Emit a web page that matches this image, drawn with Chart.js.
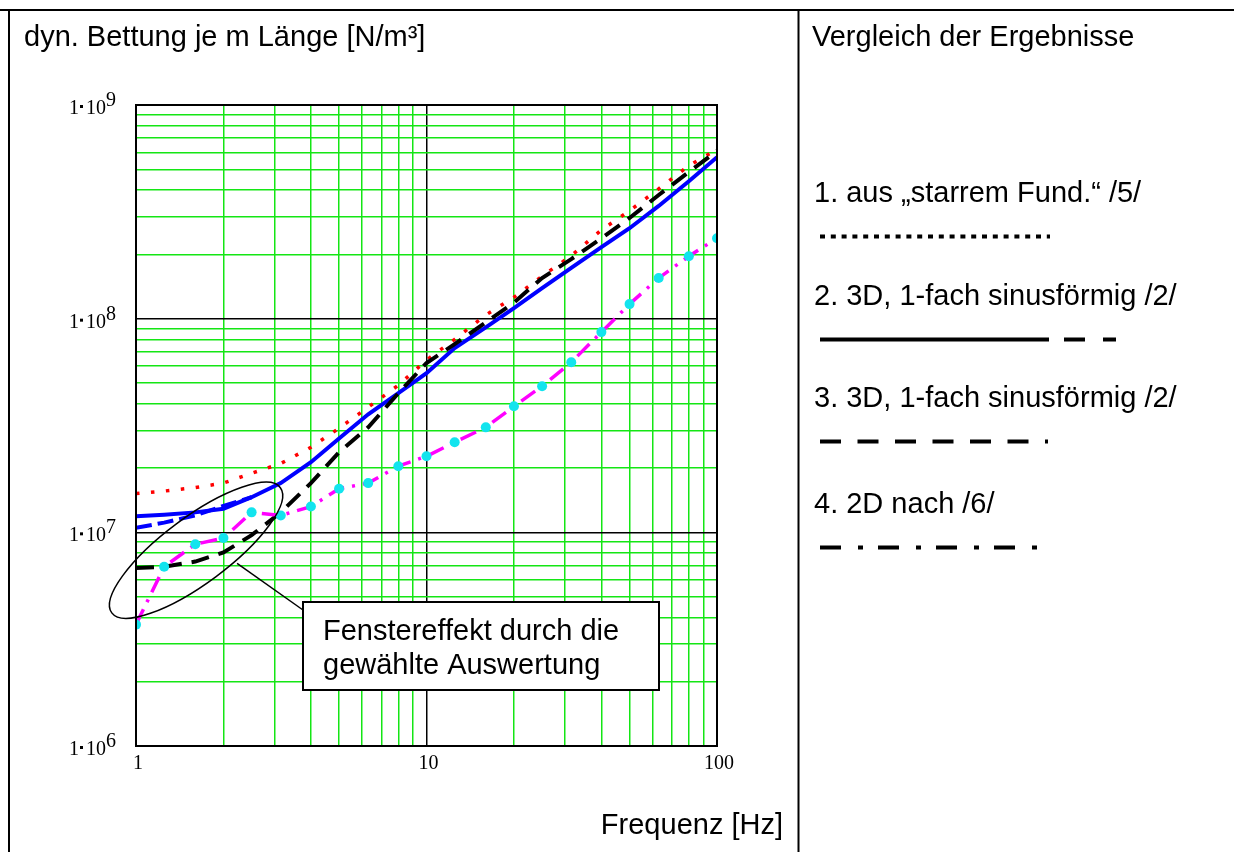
<!DOCTYPE html>
<html>
<head>
<meta charset="utf-8">
<title>dyn. Bettung je m Länge</title>
<script src="https://cdn.jsdelivr.net/npm/chart.js@4.4.1/dist/chart.umd.min.js"></script>
<style>
  html, body { margin: 0; padding: 0; background: #fff; }
  canvas { display: block; }
</style>
</head>
<body>
<canvas id="myChart" width="1234" height="852"></canvas>
<script>
//--------------------------------------------------DATA--------------------------------------------------
// third-octave frequencies [Hz]
const freqs = [1, 1.25, 1.6, 2, 2.5, 3.15, 4, 5, 6.3, 8, 10, 12.5, 16, 20, 25, 31.5, 40, 50, 63, 80, 100];

// 1. aus "starrem Fund." /5/  (red, dotted)
const starrValues = [1.52e7, 1.56e7, 1.62e7, 1.70e7, 1.89e7, 2.10e7, 2.50e7, 3.07e7, 3.85e7, 4.88e7, 6.4e7,
  8.0e7, 1.04e8, 1.26e8, 1.58e8, 1.97e8, 2.6e8, 3.2e8, 4.05e8, 5.2e8, 6.2e8];

// 2. 3D, 1-fach sinusförmig /2/  (blue, solid + dashed low end)
const sinusValues = [1.19e7, 1.21e7, 1.24e7, 1.29e7, 1.46e7, 1.70e7, 2.13e7, 2.75e7, 3.57e7, 4.48e7, 5.56e7,
  7.28e7, 9.1e7, 1.12e8, 1.39e8, 1.73e8, 2.16e8, 2.65e8, 3.37e8, 4.4e8, 5.7e8];
const sinusLowFreqs = [1, 1.25, 1.6, 2, 2.5];
const sinusLowValues = [1.05e7, 1.11e7, 1.2e7, 1.33e7, 1.46e7];

// 3. 3D, 1-fach sinusförmig /2/  (black, dashed)
const sinusBValues = [6.8e6, 6.9e6, 7.3e6, 8.05e6, 9.7e6, 1.24e7, 1.7e7, 2.37e7, 3.1e7, 4.48e7, 6.2e7,
  7.6e7, 9.6e7, 1.19e8, 1.55e8, 1.9e8, 2.38e8, 2.96e8, 3.79e8, 4.86e8, 6.1e8];

// 4. 2D nach /6/  (magenta dash-dot, cyan points)
const plane2dValues = [3.7e6, 6.9e6, 8.8e6, 9.4e6, 1.24e7, 1.2e7, 1.32e7, 1.6e7, 1.7e7, 2.04e7, 2.27e7,
  2.64e7, 3.1e7, 3.89e7, 4.83e7, 6.25e7, 8.65e7, 1.17e8, 1.55e8, 1.96e8, 2.38e8];

// axes
const xDecades = [1, 10, 100];
const xTickLabels = ['1', '10', '100'];
const yExponents = [6, 7, 8, 9];

// texts
const yTitle = 'dyn. Bettung je m Länge [N/m³]';
const xTitle = 'Frequenz [Hz]';
const panelTitle = 'Vergleich der Ergebnisse';
const legendLabels = [
  '1. aus \u201Estarrem Fund.\u201C /5/',
  '2. 3D, 1-fach sinusförmig /2/',
  '3. 3D, 1-fach sinusförmig /2/',
  '4. 2D nach /6/'
];
const noteLines = ['Fenstereffekt durch die', 'gewählte Auswertung'];

//--------------------------------------------------HELPERS--------------------------------------------------
const SANS = '"Liberation Sans", Arial, sans-serif';
const SERIF = '"Liberation Serif", "Times New Roman", serif';
const GREEN = '#14e614';

const toPoints = (xs, ys) => xs.map((x, i) => ({ x: x, y: ys[i] }));
const isDecade = v => Math.abs(Math.log10(v) - Math.round(Math.log10(v))) < 1e-9;

// 1..9 x 10^n ticks between the decades
function decadeTicks(decades) {
  const out = [];
  decades.forEach((d, i) => {
    if (i === decades.length - 1) { out.push({ value: d }); return; }
    for (let m = 1; m < 10; m++) out.push({ value: d * m });
  });
  return out;
}
const yDecades = yExponents.map(e => Math.pow(10, e));

function line(ctx, x0, y0, x1, y1) {
  ctx.beginPath();
  ctx.moveTo(x0, y0);
  ctx.lineTo(x1, y1);
  ctx.stroke();
}

//--------------------------------------------------PAGE PLUGIN--------------------------------------------------
// table frame, headings, tick labels, note, legend
const pagePlugin = {
  id: 'pagePlugin',
  afterDraw(chart) {
    const { ctx, chartArea: { left, right, top, bottom }, scales } = chart;
    const x = scales.x;
    const y = scales.y;
    ctx.save();
    ctx.strokeStyle = '#000';
    ctx.fillStyle = '#000';
    ctx.setLineDash([]);

    // plot frame
    ctx.lineWidth = 2;
    ctx.strokeRect(left, top, right - left, bottom - top);

    // table lines
    line(ctx, 0, 10, 1234, 10);
    line(ctx, 9, 10, 9, 852);
    line(ctx, 798.5, 10, 798.5, 852);

    // headings
    ctx.font = '29px ' + SANS;
    ctx.textBaseline = 'alphabetic';
    ctx.textAlign = 'left';
    ctx.fillText(yTitle, 24, 46);
    ctx.fillText(panelTitle, 812, 46);
    ctx.textAlign = 'right';
    ctx.fillText(xTitle, 783, 834);

    // x tick labels
    ctx.font = '20px ' + SERIF;
    ctx.textAlign = 'center';
    xDecades.forEach((d, i) => {
      ctx.fillText(xTickLabels[i], x.getPixelForValue(d) + 2, bottom + 23);
    });

    // y tick labels 1·10^n
    yExponents.forEach(e => {
      const py = y.getPixelForValue(Math.pow(10, e));
      ctx.font = '20px ' + SERIF;
      const sup = String(e);
      const sw = ctx.measureText(sup).width;
      ctx.textAlign = 'left';
      ctx.fillText(sup, 116 - sw, py + 1);
      ctx.textAlign = 'right';
      const tenRight = 116 - sw;
      ctx.fillText('10', tenRight, py + 9);
      const tenLeft = tenRight - ctx.measureText('10').width;
      ctx.fillRect(tenLeft - 6, py, 3, 3);
      ctx.fillText('1', tenLeft - 7, py + 9);
    });

    // ellipse round the low frequency region
    const cx = x.getPixelForValue(1.61);
    const cy = y.getPixelForValue(8.24e6);
    ctx.lineWidth = 1.5;
    ctx.beginPath();
    ctx.ellipse(cx, cy, 105, 33, -36.6 * Math.PI / 180, 0, Math.PI * 2);
    ctx.stroke();

    // note box with pointer
    line(ctx, cx + 41, cy + 13, 303, 610);
    ctx.fillStyle = '#fff';
    ctx.fillRect(303, 602, 356, 88);
    ctx.lineWidth = 2;
    ctx.strokeRect(303, 602, 356, 88);
    ctx.fillStyle = '#000';
    ctx.font = '29px ' + SANS;
    ctx.textAlign = 'left';
    ctx.fillText(noteLines[0], 323, 640);
    ctx.fillText(noteLines[1], 323, 674);

    // legend on the right
    const legendY = [202, 305, 407, 513];
    const sampleDash = [[5, 5.8], [229, 15, 21, 18, 14, 100], [21, 16.5], [21, 17, 5, 15]];
    const sampleEnd = [1050, 1116, 1048, 1037];
    legendLabels.forEach((lbl, i) => {
      ctx.font = '29px ' + SANS;
      ctx.fillText(lbl, 814, legendY[i]);
      ctx.lineWidth = 4;
      ctx.lineCap = 'butt';
      ctx.setLineDash(sampleDash[i]);
      line(ctx, 820, legendY[i] + 34.5, sampleEnd[i], legendY[i] + 34.5);
    });
    ctx.restore();
  }
};

//--------------------------------------------------CHART--------------------------------------------------
const myChart = new Chart('myChart', {
  type: 'line',
  data: {
    datasets: [
      {
        label: legendLabels[0],
        data: toPoints(freqs, starrValues),
        borderColor: '#ff0000',
        borderWidth: 3.5,
        borderDash: [3.5, 11.5],
        pointRadius: 0,
        order: 4
      },
      {
        label: legendLabels[1],
        data: toPoints(freqs, sinusValues),
        borderColor: '#0000ff',
        borderWidth: 4,
        pointRadius: 0,
        order: 3
      },
      {
        label: legendLabels[1] + ' (unten)',
        data: toPoints(sinusLowFreqs, sinusLowValues),
        borderColor: '#0000ff',
        borderWidth: 4,
        borderDash: [16, 6],
        pointRadius: 0,
        order: 3
      },
      {
        label: legendLabels[2],
        data: toPoints(freqs, sinusBValues),
        borderColor: '#000000',
        borderWidth: 4,
        borderDash: [18, 10],
        pointRadius: 0,
        order: 2
      },
      {
        label: legendLabels[3],
        data: toPoints(freqs, plane2dValues),
        borderColor: '#ff00ff',
        borderWidth: 3.5,
        borderDash: [17, 8, 3, 8],
        pointRadius: 5,
        pointBackgroundColor: '#12e4ee',
        pointBorderColor: '#12e4ee',
        pointBorderWidth: 0,
        order: 1
      }
    ]
  },
  options: {
    responsive: false,
    animation: false,
    devicePixelRatio: 1,
    layout: { padding: { left: 136, right: 517, top: 105, bottom: 106 } },
    plugins: {
      legend: { display: false },
      title: { display: false },
      tooltip: { enabled: false }
    },
    elements: { line: { tension: 0, borderCapStyle: 'butt' } },
    scales: {
      x: {
        type: 'logarithmic',
        min: xDecades[0],
        max: xDecades[xDecades.length - 1],
        afterBuildTicks: s => { s.ticks = decadeTicks(xDecades); },
        afterFit: s => { s.height = 0; s.paddingLeft = 0; s.paddingRight = 0; },
        grid: {
          drawTicks: false,
          color: c => (c.tick && isDecade(c.tick.value)) ? '#000' : GREEN,
          lineWidth: 1.5
        },
        border: { display: true, color: '#000', width: 2 },
        ticks: { display: false }
      },
      y: {
        type: 'logarithmic',
        min: yDecades[0],
        max: yDecades[yDecades.length - 1],
        afterBuildTicks: s => { s.ticks = decadeTicks(yDecades); },
        afterFit: s => { s.width = 0; s.paddingTop = 0; s.paddingBottom = 0; },
        grid: {
          drawTicks: false,
          color: c => (c.tick && isDecade(c.tick.value)) ? '#000' : GREEN,
          lineWidth: 1.5
        },
        border: { display: true, color: '#000', width: 2 },
        ticks: { display: false }
      }
    }
  },
  plugins: [pagePlugin]
});
</script>
</body>
</html>
